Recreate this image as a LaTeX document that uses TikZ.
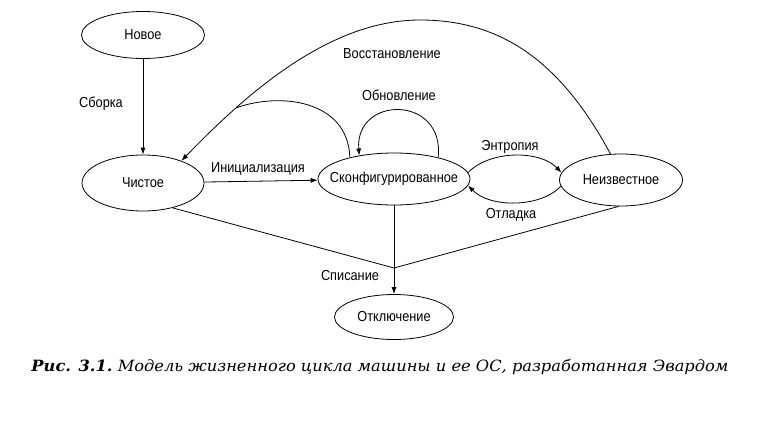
\documentclass[tikz,border=0pt]{standalone}
\usepackage{fontspec}
\setmainfont{Liberation Sans}
\newfontfamily\capfont{DejaVu Serif}
\usetikzlibrary{shapes.geometric,arrows.meta}
\newcommand{\nt}[1]{\scalebox{0.88}[1]{#1}}
\begin{document}
\begin{tikzpicture}[x=1pt,y=-1pt,
  state/.style={ellipse,draw,line width=0.8pt,inner sep=0pt,font=\fontsize{14.5}{17}\selectfont},
  lbl/.style={font=\fontsize{14.5}{17}\selectfont,inner sep=0pt},
  edge/.style={line width=0.8pt,-{Latex[length=7pt,width=5pt]}},
  plain/.style={line width=0.8pt}]
\useasboundingbox (0,0) rectangle (779,429);
\node[state,minimum width=123pt,minimum height=47pt] (new) at (143,35) {\makebox[0pt]{\nt{Новое}}};
\node[state,minimum width=122pt,minimum height=56pt] (clean) at (143,183) {\makebox[0pt]{\nt{Чистое}}};
\node[state,minimum width=152pt,minimum height=52pt] (conf) at (394,179) {\makebox[0pt]{\nt{Сконфигурированное}}};
\node[state,minimum width=123pt,minimum height=52pt] (unk) at (621,180) {\makebox[0pt]{\nt{Неизвестное}}};
\node[state,minimum width=119pt,minimum height=45pt] (off) at (394,317) {\makebox[0pt]{\nt{Отключение}}};

\draw[edge] (new) -- (clean);
\draw[edge] (clean) -- (conf);
\draw[edge] (unk.112) .. controls (560,60) and (500,20) .. (420,20) .. controls (330,20) and (248,92) .. (clean.30) coordinate[pos=0.74] (join);
\draw[plain] (conf.154) .. controls (348,100) and (280,92) .. (join);
\draw[edge] (conf.26) .. controls (445,95) and (355,95) .. (conf.146);
\draw[edge] (conf.5) .. controls (490,150) and (540,150) .. (unk.173);
\draw[edge] (unk.186) .. controls (540,208) and (490,208) .. (conf.-5);
\coordinate (merge) at (394,268);
\draw[plain] (clean.-40) -- (merge);
\draw[plain] (unk.-95) -- (merge);
\draw[edge] (conf) -- (off);

\node[lbl] (l1) at (101,104) {\nt{Сборка}};
\node[lbl] (l2) at (392,54) {\nt{Восстановление}};
\node[lbl] (l3) at (399,95) {\nt{Обновление}};
\node[lbl] (l4) at (258,169) {\nt{Инициализация}};
\node[lbl] (l5) at (510,147) {\nt{Энтропия}};
\node[lbl] (l6) at (511,215) {\nt{Отладка}};
\node[lbl] (l7) at (350,276) {\nt{Списание}};

\node[anchor=base,inner sep=0pt] (cap) at (380,371) {\resizebox{697pt}{\height}{\capfont\fontsize{15.5}{18}\selectfont\bfseries\itshape Рис. 3.1.\mdseries\ Модель жизненного цикла машины и ее ОС, разработанная Эвардом}};
\end{tikzpicture}
\end{document}
